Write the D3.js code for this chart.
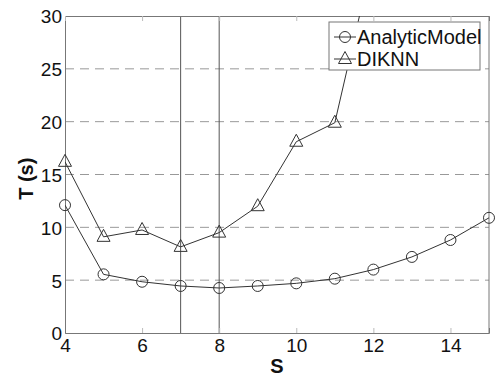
<!DOCTYPE html>
<html>
<head>
<meta charset="utf-8">
<script src="https://cdn.jsdelivr.net/npm/d3@7"></script>
<style>
  body { margin: 0; background: #fff; }
  svg text { font-family: "Liberation Sans", Arial, sans-serif; fill: #111; }
</style>
</head>
<body>
<div id="chart"></div>
<script>
// data
const sValues = [4, 5, 6, 7, 8, 9, 10, 11, 12, 13, 14, 15];
const analyticModel = [12.1, 5.55, 4.85, 4.45, 4.26, 4.45, 4.7, 5.14, 6.0, 7.2, 8.8, 10.9];
const diknnS = [4, 5, 6, 7, 8, 9, 10, 11, 12];
const diknn = [16.2, 9.1, 9.75, 8.15, 9.5, 12.0, 18.1, 19.9, 35.7];
const xTicks = [4, 6, 8, 10, 12, 14];
const yTicks = [0, 5, 10, 15, 20, 25, 30];
const gridY = [5, 10, 15, 20, 25];
const markerLines = [7, 8];
const seriesNames = ['AnalyticModel', 'DIKNN'];

const width = 498, height = 380;
const margin = { top: 16, right: 9, bottom: 47, left: 65 };
const graphWidth = width - margin.left - margin.right;
const graphHeight = height - margin.top - margin.bottom;

const svg = d3.select('#chart').append('svg')
  .attr('width', width)
  .attr('height', height);

svg.append('defs').append('clipPath').attr('id', 'plot-clip')
  .append('rect').attr('width', graphWidth).attr('height', graphHeight);

const graph = svg.append('g').attr('transform', `translate(${margin.left}, ${margin.top})`);

const xScale = d3.scaleLinear().domain([4, 15]).range([0, graphWidth]);
const yScale = d3.scaleLinear().domain([0, 30]).range([graphHeight, 0]);

// dashed horizontal grid
graph.selectAll('line.grid')
  .data(gridY)
  .enter().append('line')
  .attr('class', 'grid')
  .attr('x1', 0).attr('x2', graphWidth)
  .attr('y1', d => yScale(d)).attr('y2', d => yScale(d))
  .attr('stroke', '#999')
  .attr('stroke-width', 1)
  .attr('stroke-dasharray', '9,6');

// vertical reference lines
graph.selectAll('line.vref')
  .data(markerLines)
  .enter().append('line')
  .attr('class', 'vref')
  .attr('x1', d => xScale(d)).attr('x2', d => xScale(d))
  .attr('y1', 0).attr('y2', graphHeight)
  .attr('stroke', '#555')
  .attr('stroke-width', 1);

// axes (ticks inside, box around)
const xAxis = d3.axisBottom(xScale).tickValues(xTicks).tickSize(-5).tickFormat(d3.format('d'));
const yAxis = d3.axisLeft(yScale).tickValues(yTicks).tickSize(0).tickPadding(3).tickFormat(d3.format('d'));
const xTop = d3.axisTop(xScale).tickValues(xTicks).tickSize(-5).tickFormat('');

const gx = graph.append('g').attr('transform', `translate(0, ${graphHeight})`).call(xAxis);
const gy = graph.append('g').call(yAxis);
const gt = graph.append('g').call(xTop);
graph.append('line').attr('x1', graphWidth).attr('x2', graphWidth).attr('y1', 0).attr('y2', graphHeight)
  .attr('stroke', '#777');

[gx, gy, gt].forEach(g => {
  g.select('.domain').attr('stroke', '#777');
  g.selectAll('.tick line').attr('stroke', '#bbb');
  g.selectAll('.tick text').style('font-size', '19px').attr('fill', '#111');
});
gx.selectAll('.tick text').attr('y', 19).attr('dy', 0);
gy.selectAll('.tick text').attr('dy', '0.36em');

// axis labels
svg.append('text')
  .attr('x', margin.left + xScale(9.5))
  .attr('y', 373)
  .attr('text-anchor', 'middle')
  .style('font-size', '20px')
  .style('font-weight', 'bold')
  .text('S');

svg.append('text')
  .attr('transform', `translate(33, ${margin.top + yScale(14.6)}) rotate(-90)`)
  .attr('text-anchor', 'middle')
  .style('font-size', '20px')
  .style('font-weight', 'bold')
  .text('T (s)');

// series
const line = d3.line().x(d => xScale(d[0])).y(d => yScale(d[1]));
const plot = graph.append('g').attr('clip-path', 'url(#plot-clip)');

const amPts = sValues.map((s, i) => [s, analyticModel[i]]);
const dkPts = diknnS.map((s, i) => [s, diknn[i]]);

const triPath = 'M0,-7.5L6.5,4.5L-6.5,4.5Z';

plot.append('path').datum(amPts).attr('d', line)
  .attr('fill', 'none').attr('stroke', '#333').attr('stroke-width', 1);
plot.append('path').datum(dkPts).attr('d', line)
  .attr('fill', 'none').attr('stroke', '#333').attr('stroke-width', 1);

graph.selectAll('circle.am')
  .data(amPts)
  .enter().append('circle')
  .attr('class', 'am')
  .attr('cx', d => xScale(d[0])).attr('cy', d => yScale(d[1]))
  .attr('r', 5.5)
  .attr('fill', 'none').attr('stroke', '#333').attr('stroke-width', 1);

graph.selectAll('path.dk')
  .data(dkPts.filter(d => d[1] <= 30))
  .enter().append('path')
  .attr('class', 'dk')
  .attr('transform', d => `translate(${xScale(d[0])}, ${yScale(d[1])})`)
  .attr('d', triPath)
  .attr('fill', 'none').attr('stroke', '#333').attr('stroke-width', 1);

// legend
const legend = svg.append('g').attr('transform', 'translate(329, 22)');
legend.append('rect')
  .attr('width', 151).attr('height', 48)
  .attr('fill', '#fff').attr('stroke', '#777');

seriesNames.forEach((name, i) => {
  const cy = 15 + i * 22;
  const row = legend.append('g').attr('transform', `translate(0, ${cy})`);
  row.append('line').attr('x1', 5).attr('x2', 27).attr('stroke', '#333');
  if (i === 0) {
    row.append('circle').attr('cx', 16).attr('r', 5.5)
      .attr('fill', 'none').attr('stroke', '#333');
  } else {
    row.append('path').attr('transform', 'translate(16, 0)').attr('d', triPath)
      .attr('fill', 'none').attr('stroke', '#333');
  }
  row.append('text').attr('x', 28).attr('dy', '0.36em')
    .style('font-size', '20px')
    .text(name);
});
</script>
</body>
</html>
